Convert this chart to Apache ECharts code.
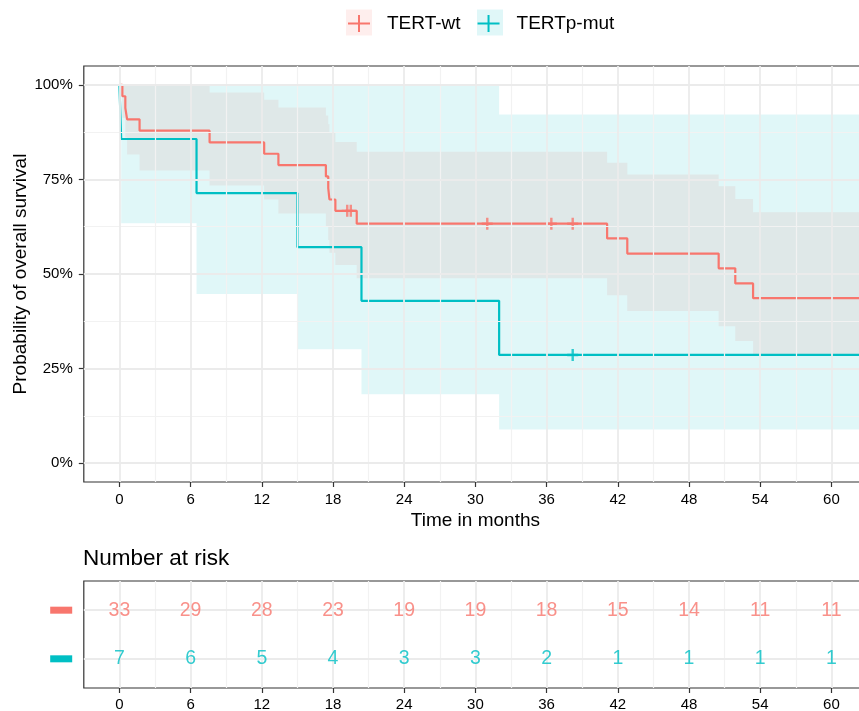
<!DOCTYPE html>
<html>
<head>
<meta charset="utf-8">
<script src="https://cdn.jsdelivr.net/npm/echarts@6/dist/echarts.min.js"></script>
<style>html,body{margin:0;padding:0;background:#fff}#c{width:859px;height:711px}</style>
</head>
<body>
<div id="c"></div>
<script>
// ---------- data ----------
const wtTimes  = [0, 0.25, 0.5, 0.65, 1.7, 7.6, 12.2, 13.4, 17.4, 17.6, 17.7, 18.2, 20.0, 41.1, 42.8, 50.5, 51.9, 53.4, 63];
const wtSurv   = [100, 97.0, 93.9, 90.9, 87.9, 84.8, 81.8, 78.8, 75.8, 72.7, 69.7, 66.7, 63.3, 59.4, 55.4, 51.5, 47.5, 43.6, 43.6];
const wtUpper  = [100, 100, 100, 100, 99.7, 98.0, 96.1, 94.0, 91.9, 89.6, 87.3, 84.9, 82.3, 79.4, 76.3, 73.2, 69.8, 66.3, 66.3];
const wtLower  = [100, 91.3, 86.1, 81.6, 77.4, 73.4, 69.7, 66.0, 62.5, 59.0, 55.6, 52.4, 48.9, 44.4, 40.2, 36.2, 32.3, 28.6, 28.6];
const wtCensorTimes = [19.2, 19.5, 31.0, 36.4, 38.2];
const wtCensorSurv  = [66.7, 66.7, 63.3, 63.3, 63.3];

const mutTimes = [0, 0.15, 6.5, 15.0, 20.4, 32.0, 63];
const mutSurv  = [100, 85.7, 71.4, 57.1, 42.9, 28.6, 28.6];
const mutUpper = [100, 100, 100, 100, 100, 92.2, 92.2];
const mutLower = [100, 63.4, 44.7, 30.1, 18.2, 8.9, 8.9];
const mutCensorTimes = [38.2];
const mutCensorSurv  = [28.6];

const riskTimes  = [0, 6, 12, 18, 24, 30, 36, 42, 48, 54, 60];
const wtAtRisk   = [33, 29, 28, 23, 19, 19, 18, 15, 14, 11, 11];
const mutAtRisk  = [7, 6, 5, 4, 3, 3, 2, 1, 1, 1, 1];

const xMajor = [0, 6, 12, 18, 24, 30, 36, 42, 48, 54, 60];
const xMinor = [3, 9, 15, 21, 27, 33, 39, 45, 51, 57];
const yMajor = [0, 25, 50, 75, 100];
const yMinor = [12.5, 37.5, 62.5, 87.5];
const groupNames = ['TERT-wt', 'TERTp-mut'];

// ---------- styles ----------
const FONT = "'Liberation Sans', Arial, sans-serif";
const RED = '#F8766D', TEAL = '#00BFC4';
const RED_BAND = 'rgba(248,118,109,0.12)', TEAL_BAND = 'rgba(0,191,196,0.12)';
const MAJOR = '#ebebeb', MINOR = '#f2f2f2';
const PLUS_LEG = 'path://M0,7.5H10V0H12V7.5H22V9.5H12V17H10V9.5H0Z';
const PLUS_PT = 'path://M0,4.8H4.3V0H6.7V4.8H11V7.2H6.7V12H4.3V7.2H0Z';

function zip(a, b) { return a.map((v, i) => [v, b[i]]); }

function gridLines(xi, yi, xsMaj, xsMin, ysMaj, ysMin) {
  const d = [];
  xsMin.forEach(v => d.push({xAxis: v, lineStyle: {color: MINOR, width: 1.2}}));
  ysMin.forEach(v => d.push({yAxis: v, lineStyle: {color: MINOR, width: 1.2}}));
  xsMaj.forEach(v => d.push({xAxis: v, lineStyle: {color: MAJOR, width: 1.8}}));
  ysMaj.forEach(v => d.push({yAxis: v, lineStyle: {color: MAJOR, width: 1.8}}));
  return {
    type: 'line', xAxisIndex: xi, yAxisIndex: yi, data: [], silent: true, z: 1,
    markLine: {silent: true, symbol: ['none', 'none'], label: {show: false},
      animation: false, lineStyle: {type: 'solid'}, data: d}
  };
}

// confidence band: one step-shaped polygon, placed through the axes with api.coord
function band(name, times, lo, hi, color) {
  return {
    name: name + ' CI', type: 'custom', xAxisIndex: 0, yAxisIndex: 0, silent: true, z: 2,
    data: times.map((t, i) => [t, lo[i], hi[i]]),
    encode: {x: 0, y: [1, 2]},
    renderItem: function (params, api) {
      if (params.dataIndex !== 0) return null;
      const n = times.length, pts = [];
      for (let i = 0; i < n; i++) {
        pts.push(api.coord([times[i], hi[i]]));
        if (i + 1 < n) pts.push(api.coord([times[i + 1], hi[i]]));
      }
      for (let i = n - 1; i >= 0; i--) {
        if (i + 1 < n) pts.push(api.coord([times[i + 1], lo[i]]));
        pts.push(api.coord([times[i], lo[i]]));
      }
      return {type: 'polygon', shape: {points: pts}, style: {fill: color}};
    }
  };
}

function kmLine(name, times, surv, color) {
  return {name: name, type: 'line', step: 'end', data: zip(times, surv),
    symbol: 'none', showSymbol: false, lineStyle: {color: color, width: 2.2},
    itemStyle: {color: color}, z: 3, silent: true};
}

function censor(name, times, surv, color) {
  return {name: name, type: 'scatter', data: zip(times, surv), symbol: PLUS_PT,
    symbolSize: [11, 12], itemStyle: {color: color}, z: 4, silent: true};
}

function riskRow(row, counts, color) {
  return {type: 'scatter', xAxisIndex: 1, yAxisIndex: 1,
    data: riskTimes.map((t, i) => [t, row, counts[i]]),
    symbolSize: 1, itemStyle: {color: 'rgba(0,0,0,0)'}, silent: true, z: 5,
    label: {show: true, position: 'inside', formatter: p => String(p.value[2]),
      color: color, fontSize: 19.5, fontFamily: FONT}};
}

const tickStyle = {color: '#333', width: 1.2};

const option = {
  animation: false,
  backgroundColor: '#fff',
  textStyle: {fontFamily: FONT},
  title: {text: 'Number at risk', left: 83, top: 547, padding: 0,
    textStyle: {fontFamily: FONT, fontSize: 22.5, fontWeight: 'normal', color: '#000'}},
  legend: {
    left: 348, top: 14, padding: 0, selectedMode: false, itemWidth: 22, itemHeight: 17, itemGap: 17,
    data: [
      {name: groupNames[0], icon: PLUS_LEG, itemStyle: {color: RED}},
      {name: groupNames[1], icon: PLUS_LEG, itemStyle: {color: TEAL}}
    ],
    textStyle: {fontFamily: FONT, fontSize: 19, color: '#000', padding: [0, 0, 0, 12]}
  },
  graphic: [
    {type: 'rect', shape: {x: 346, y: 9.5, width: 26, height: 26}, style: {fill: RED_BAND}, z: 0},
    {type: 'rect', shape: {x: 477, y: 9.5, width: 26, height: 26}, style: {fill: TEAL_BAND}, z: 0}
  ],
  grid: [
    {left: 83.8, top: 66, width: 783.2, height: 416, show: true, borderColor: '#333',
     borderWidth: 1.2, backgroundColor: 'transparent', containLabel: false, outerBoundsMode: 'none'},
    {left: 83.8, top: 581, width: 783.2, height: 107, show: true, borderColor: '#333',
     borderWidth: 1.2, backgroundColor: 'transparent', containLabel: false, outerBoundsMode: 'none'}
  ],
  xAxis: [
    {type: 'value', gridIndex: 0, min: -3, max: 63,
     name: 'Time in months', nameLocation: 'middle', nameGap: 29, nameMoveOverlap: false,
     nameTextStyle: {fontFamily: FONT, fontSize: 19, color: '#000'},
     axisLine: {show: false, onZero: false}, splitLine: {show: false},
     axisTick: {show: true, customValues: xMajor, length: 5, lineStyle: tickStyle},
     axisLabel: {customValues: xMajor, fontSize: 15, color: '#000', margin: 10, fontFamily: FONT}},
    {type: 'value', gridIndex: 1, min: -3, max: 63,
     axisLine: {show: false, onZero: false}, splitLine: {show: false},
     axisTick: {show: true, customValues: xMajor, length: 5, lineStyle: tickStyle},
     axisLabel: {customValues: xMajor, fontSize: 15, color: '#000', margin: 9, fontFamily: FONT}}
  ],
  yAxis: [
    {type: 'value', gridIndex: 0, min: -5, max: 105,
     name: 'Probability of overall survival', nameLocation: 'middle', nameGap: 54, nameMoveOverlap: false,
     nameTextStyle: {fontFamily: FONT, fontSize: 19, color: '#000'},
     axisLine: {show: false, onZero: false}, splitLine: {show: false},
     axisTick: {show: true, customValues: yMajor, length: 5, lineStyle: tickStyle},
     axisLabel: {customValues: yMajor, formatter: v => v + '%', fontSize: 15, color: '#000',
       margin: 11, fontFamily: FONT}},
    {type: 'value', gridIndex: 1, min: 0.4, max: 2.6,
     axisLine: {show: false, onZero: false}, splitLine: {show: false},
     axisTick: {show: false, customValues: [1, 2]},
     axisLabel: {customValues: [1, 2], margin: 11.6,
       formatter: v => (v === 2 ? '{r|}' : '{t|}'),
       rich: {r: {width: 22, height: 7, backgroundColor: RED},
              t: {width: 22, height: 7, backgroundColor: TEAL}}}}
  ],
  series: [
    gridLines(0, 0, xMajor, xMinor, yMajor, yMinor),
    gridLines(1, 1, xMajor, xMinor, [1, 2], []),
    band(groupNames[0], wtTimes, wtLower, wtUpper, RED_BAND),
    band(groupNames[1], mutTimes, mutLower, mutUpper, TEAL_BAND),
    kmLine(groupNames[0], wtTimes, wtSurv, RED),
    kmLine(groupNames[1], mutTimes, mutSurv, TEAL),
    censor(groupNames[0] + ' censored', wtCensorTimes, wtCensorSurv, RED),
    censor(groupNames[1] + ' censored', mutCensorTimes, mutCensorSurv, TEAL),
    riskRow(2, wtAtRisk, RED),
    riskRow(1, mutAtRisk, TEAL)
  ]
};

const chart = echarts.init(document.getElementById('c'), null, {renderer: 'canvas'});
chart.setOption(option);
</script>
</body>
</html>
